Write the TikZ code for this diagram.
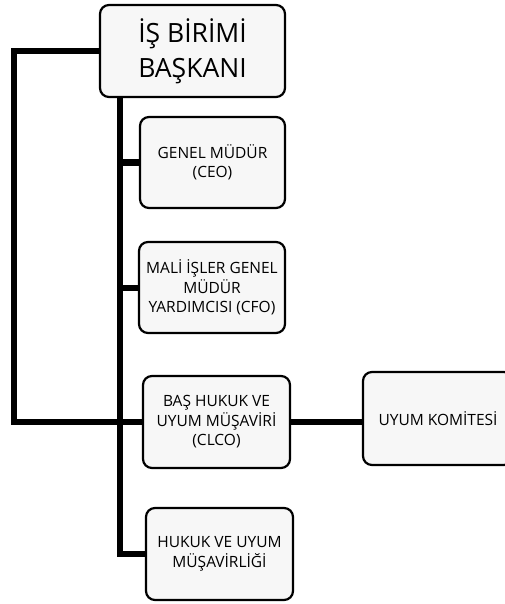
\documentclass[tikz,border=0pt]{standalone}
\usepackage{fontspec}
\setmainfont{Open Sans}
\usepackage{tikz}

\begin{document}
\begin{tikzpicture}[x=1pt,y=1pt,line width=6pt,
    box/.style={draw,line width=2.2pt,rounded corners=9pt,fill=black!3,
      align=center,inner sep=2pt,font=\fontsize{15.5}{19.5}\selectfont},
    headbox/.style={box,font=\fontsize{26.5}{35}\selectfont}]
  \useasboundingbox (0,0) rectangle (505,-604);

  % boxes
  \node[headbox,minimum width=185,minimum height=92] (bas) at (192.5,-51)
      {İŞ BİRİMİ\\BAŞKANI};
  \node[box,minimum width=145,minimum height=91] (ceo) at (212.5,-162.5)
      {GENEL MÜDÜR\\(CEO)};
  \node[box,minimum width=146,minimum height=91] (cfo) at (212,-287.5)
      {MALİ İŞLER GENEL\\MÜDÜR\\YARDIMCISI (CFO)};
  \node[box,minimum width=147,minimum height=92] (clco) at (216.5,-422)
      {BAŞ HUKUK VE\\UYUM MÜŞAVİRİ\\(CLCO)};
  \node[box,minimum width=150,minimum height=93] (uyum) at (438,-418.5)
      {UYUM KOMİTESİ};
  \node[box,minimum width=147,minimum height=92] (hukuk) at (219.5,-554)
      {HUKUK VE UYUM\\MÜŞAVİRLİĞİ};

  % connectors
  \coordinate (T) at (120,-97);
  \draw (T) |- (hukuk.west);
  \draw (T |- ceo.west) -- (ceo.west);
  \draw (T |- cfo.west) -- (cfo.west);
  \draw (bas.west) -- ++(-85,0) |- (clco.west);
  \draw (clco.east) -- (clco.east -| uyum.west);
\end{tikzpicture}
\end{document}
